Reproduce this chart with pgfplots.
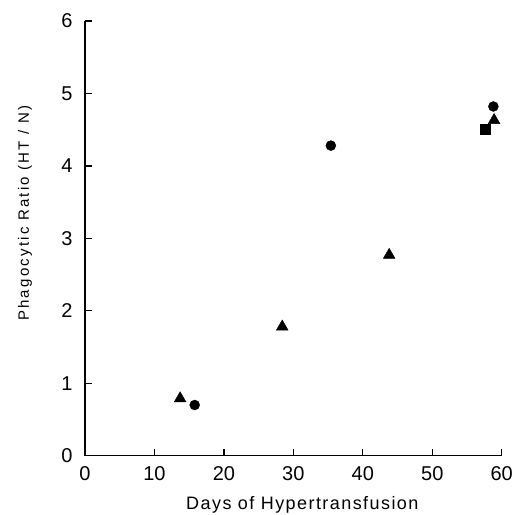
\documentclass[border=0pt]{standalone}
\usepackage{pgfplots}
\pgfplotsset{compat=1.18}
\usepackage{fontspec}
\setmainfont{Liberation Sans}
\newfontfamily\labfont[LetterSpace=15]{Liberation Sans}
\newfontfamily\xlabfont[LetterSpace=8]{Liberation Sans}
\begin{document}
\begin{tikzpicture}
\begin{axis}[
  scale only axis,
  width=417pt, height=435pt,
  xmin=0, xmax=60, ymin=0, ymax=6,
  axis lines=left,
  axis line style={-, line width=1.3pt},
  xtick={0,10,...,60}, ytick={0,1,...,6},
  tick align=inside,
  major tick length=7pt,
  tick style={line width=1.3pt, black},
  /pgf/number format/assume math mode=true,
  ticklabel style={font=\fontsize{20}{22}\selectfont},
  yticklabel style={xshift=-9pt},
  xticklabel style={yshift=-7pt},
  xlabel={Days of Hypertransfusion},
  ylabel={Phagocytic Ratio (HT / N)},
  xlabel style={font=\xlabfont\fontsize{18}{20}\selectfont, at={(axis description cs:0.5216,-0.112)}, anchor=center},
  ylabel style={font=\labfont\fontsize{15}{17}\selectfont, at={(axis description cs:-0.1439,0.5575)}, anchor=center},
  clip=false,
]
\addplot[only marks, mark=*, mark size=5pt, black] coordinates {(15.8,0.70) (35.4,4.28) (58.8,4.82)};
\addplot[only marks, mark=triangle*, mark size=6.8pt, black] coordinates {(13.7,0.79) (28.4,1.78) (43.8,2.77) (58.9,4.63)};
\addplot[only marks, mark=square*, mark size=5pt, black] coordinates {(57.6,4.51)};
\end{axis}
\pgfresetboundingbox
\path (current axis.south west) ++(-85pt,-59pt) coordinate (bbA);
\path (current axis.north east) ++(29.3pt,21pt) coordinate (bbB);
\useasboundingbox (bbA) rectangle (bbB);
\end{tikzpicture}
\end{document}
